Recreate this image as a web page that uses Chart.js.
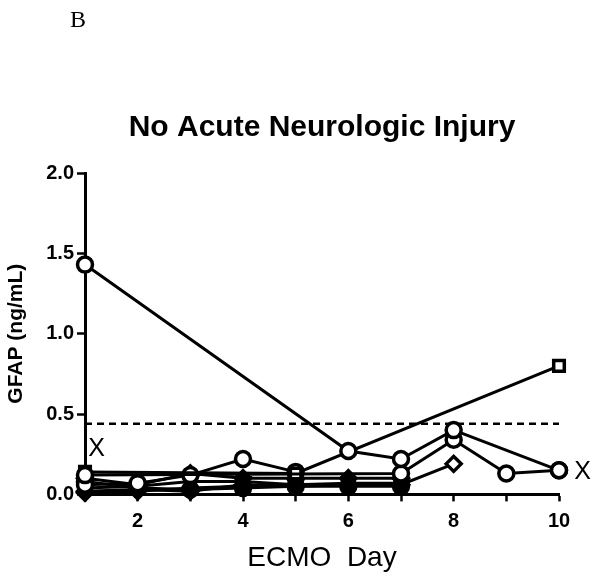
<!DOCTYPE html>
<html>
<head>
<title>GFAP - No Acute Neurologic Injury</title>
<script src="https://cdn.jsdelivr.net/npm/chart.js"></script>
<style>
  body { margin: 0; background: #fff; }
  #wrap { width: 600px; height: 578px; position: relative; }
</style>
</head>
<body>
<div id="wrap"><canvas id="myChart"></canvas></div>
<script>
// ECMO days and GFAP values (ng/mL) per patient, null = not measured
const days = [1, 2, 3, 4, 5, 6, 7, 8, 9, 10];
const patA = [1.43, null, null, null, null, 0.27, 0.22, 0.40, null, 0.15];
const patB = [0.12, null, null, null, null, null, 0.13, 0.34, 0.13, 0.15];
const patC = [0.14, null, null, null, 0.13, null, null, null, null, 0.80];
const patD = [0.06, 0.07, 0.12, 0.22, 0.14, null, null, null, null, null];
const patE = [0.02, 0.03, 0.02, 0.06, 0.05, 0.06, 0.06, null, null, null];
const patF = [0.10, 0.06, 0.13, 0.10, 0.10, 0.10, 0.10, null, null, null];
const patG = [0.04, 0.05, 0.08, 0.08, 0.06, 0.07, 0.07, null, null, null];
const patH = [0.01, 0.02, 0.04, 0.05, 0.06, 0.06, 0.06, 0.19, null, null];
const patI = [0.08, 0.04, 0.03, 0.04, 0.05, 0.05, 0.05, null, null, null];
const cutoff = 0.44;
const yTicks = [0, 0.5, 1.0, 1.5, 2.0];
// "X" marks next to points (day, value)
const xMarks = [[1.22, 0.28], [10.45, 0.14]];

function pts(vals) {
  return days.map((d, i) => ({ x: d, y: vals[i] }));
}
function series(vals, style, filled, rot) {
  return {
    data: pts(vals),
    borderColor: '#000',
    borderWidth: 3,
    pointStyle: style,
    pointRotation: rot || 0,
    pointRadius: 7.5,
    pointBorderWidth: 3.5,
    pointBackgroundColor: filled ? '#000' : '#fff',
    pointBorderColor: '#000',
    spanGaps: true,
    clip: false
  };
}

const marksPlugin = {
  id: 'marks',
  afterDraw(chart) {
    const c = chart.ctx, xs = chart.scales.x, ys = chart.scales.y;
    c.save();
    c.fillStyle = '#000';
    c.font = '25px "Liberation Sans", Arial';
    c.textAlign = 'center';
    c.textBaseline = 'middle';
    xMarks.forEach(m => c.fillText('X', xs.getPixelForValue(m[0]), ys.getPixelForValue(m[1])));
    c.font = '24px "Liberation Serif", "Times New Roman", serif';
    c.textAlign = 'left';
    c.fillText('B', 70, 21);
    c.restore();
  }
};

new Chart(document.getElementById('myChart'), {
  type: 'line',
  plugins: [marksPlugin],
  data: {
    datasets: [
      series(patA, 'circle', false),
      series(patB, 'circle', false),
      series(patC, 'rect', false),
      series(patD, 'circle', false),
      series(patE, 'rectRot', true),
      series(patF, 'rectRot', true),
      series(patG, 'triangle', true, 180),
      series(patH, 'rectRot', false),
      series(patI, 'circle', true),
      {
        data: [{ x: days[0], y: cutoff }, { x: days[days.length - 1], y: cutoff }],
        borderColor: '#000',
        borderWidth: 2.5,
        borderDash: [7, 5],
        pointRadius: 0
      }
    ]
  },
  options: {
    animation: false,
    responsive: true,
    maintainAspectRatio: false,
    layout: { padding: { top: 100, right: 41, bottom: 3, left: 0 } },
    plugins: {
      legend: { display: false },
      tooltip: { enabled: false },
      title: {
        display: true,
        fullSize: false,
        text: 'No Acute Neurologic Injury',
        color: '#000',
        font: { family: '"Liberation Sans", Arial', size: 30, weight: 'bold' },
        padding: { top: 10, bottom: 27 }
      }
    },
    scales: {
      x: {
        type: 'linear',
        min: 1,
        max: 10,
        afterBuildTicks: s => { s.ticks = days.map(v => ({ value: v })); },
        ticks: {
          color: '#000',
          padding: 8,
          font: { family: '"Liberation Sans", Arial', size: 20, weight: 'bold' },
          callback: v => (v % 2 === 0 ? String(v) : '')
        },
        grid: { drawOnChartArea: false, tickLength: 7, tickWidth: 2.5, tickColor: '#000' },
        border: { color: '#000', width: 3 },
        title: {
          display: true,
          text: 'ECMO  Day',
          color: '#000',
          font: { family: '"Liberation Sans", Arial', size: 28 },
          padding: { top: 0, bottom: 0 }
        }
      },
      y: {
        min: 0,
        max: 2,
        afterBuildTicks: s => { s.ticks = yTicks.map(v => ({ value: v })); },
        ticks: {
          color: '#000',
          padding: 3,
          font: { family: '"Liberation Sans", Arial', size: 20, weight: 'bold' },
          callback: v => v.toFixed(1)
        },
        grid: { drawOnChartArea: false, tickLength: 8, tickWidth: 2.5, tickColor: '#000' },
        border: { color: '#000', width: 3 },
        title: {
          display: true,
          text: 'GFAP (ng/mL)',
          color: '#000',
          font: { family: '"Liberation Sans", Arial', size: 21, weight: 'bold' },
          padding: { top: 4, bottom: 14 }
        }
      }
    }
  }
});
</script>
</body>
</html>
